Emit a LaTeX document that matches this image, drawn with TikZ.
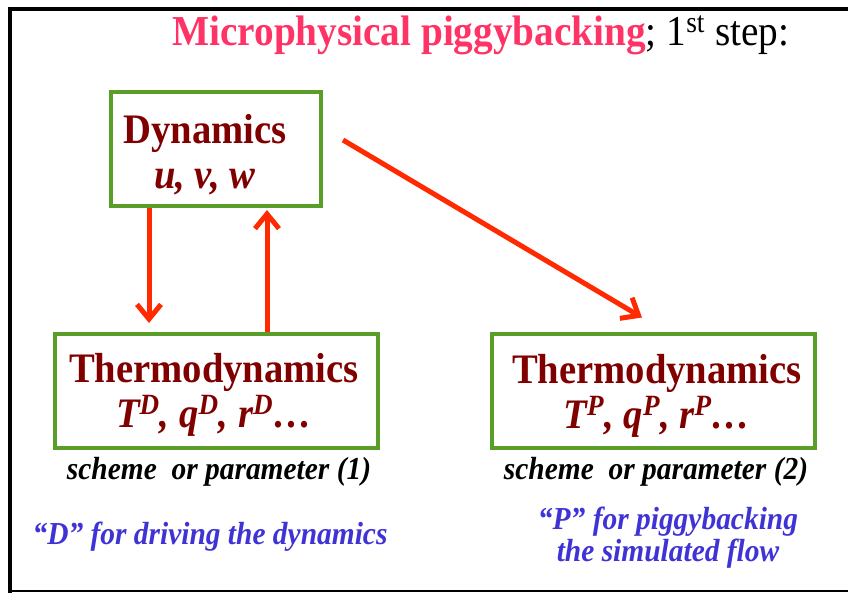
\documentclass[tikz,border=0pt]{standalone}
\usepackage{fontspec}
\setmainfont{Liberation Serif}[FakeStretch=0.92]
\usepackage{xcolor}
\usetikzlibrary{arrows.meta,calc}
\definecolor{titlepink}{HTML}{FF3366}
\definecolor{boxgreen}{HTML}{5A9E2A}
\definecolor{textmaroon}{HTML}{800000}
\definecolor{arrowred}{HTML}{FF2A00}
\definecolor{noteblue}{HTML}{3F33D6}

\begin{document}
\begin{tikzpicture}[x=0.75pt, y=-0.75pt,
  thbox/.style={draw=boxgreen, line width=3pt, minimum width=242pt, minimum height=85.5pt, inner sep=0pt},
  boxtext/.style={text=textmaroon, align=center, anchor=base, inner sep=0pt, font=\bfseries\fontsize{31.5}{33.75}\selectfont},
  flowarrow/.style={draw=arrowred, line width=3.75pt, -{Straight Barb[length=11pt, width=18pt]}},
  schemelabel/.style={font=\bfseries\itshape\fontsize{24}{26}\selectfont, anchor=base, inner sep=0pt},
  bluenote/.style={text=noteblue, font=\bfseries\itshape\fontsize{24}{24}\selectfont, align=center, anchor=base, inner sep=0pt}]
  \useasboundingbox (0,0) rectangle (848,593);
  \draw[line width=3pt] (848,9) -- (10,9) -- (10,593);
  \draw[line width=1.5pt] (10,590.5) -- (848,590.5);

  \node (title) [anchor=base west, inner sep=0pt, font=\fontsize{32}{36}\selectfont] at (172,45) {\textcolor{titlepink}{\bfseries Microphysical piggybacking}; 1\textsuperscript{st} step:};

  \node (dyn) [thbox, minimum width=157.5pt] at (216,149) {};
  \node (thD) [thbox] at (216.5,391) {};
  \node (thP) [thbox] at (653.5,390.5) {};
  \node (dynlbl) [boxtext] at (205,188) {Dynamics\\\textit{u, v, w}};
  \node (thDlbl) [boxtext] at (214,427) {Thermodynamics\\\textit{T\textsuperscript{D}, q\textsuperscript{D}, r\textsuperscript{D}…}};
  \node (thPlbl) [boxtext] at (657,428) {Thermodynamics\\\textit{T\textsuperscript{P}, q\textsuperscript{P}, r\textsuperscript{P}…}};

  \node (lblD) [schemelabel] at (219,479) {scheme\ \ or parameter (1)};
  \node (lblP) [schemelabel] at (656,479) {scheme\ \ or parameter (2)};
  \node (noteD) [bluenote] at (210,544) {“D” for driving the dynamics};
  \node (noteP) [bluenote] at (668,561) {“P” for piggybacking\\the simulated flow};

  \draw[flowarrow] ($(dyn.south)+(-67,0)$) -- ($(thD.north)+(-67.5,-9)$);
  \draw[flowarrow] ($(thD.north)+(50.5,0)$) -- ($(dyn.south)+(51,2)$);
  \draw[flowarrow] ($(dyn.east)+(20,-9)$) -- ($(thP.north)+(-11.5,-14)$);
\end{tikzpicture}
\end{document}
